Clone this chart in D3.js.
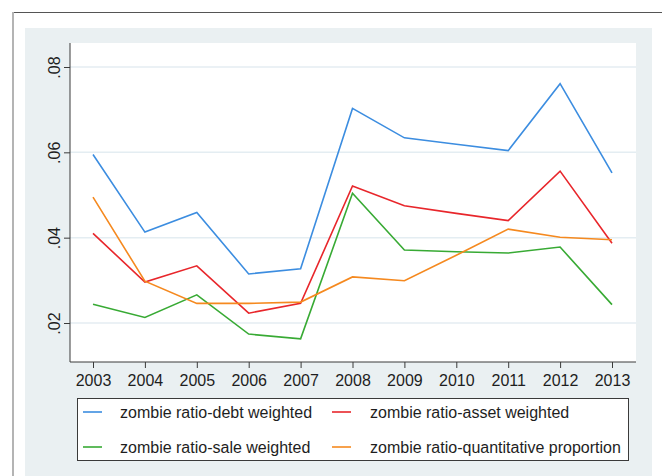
<!DOCTYPE html>
<html>
<head>
<meta charset="utf-8">
<script src="https://cdn.jsdelivr.net/npm/d3@7"></script>
<style>
  body { margin: 0; background: #fff; }
  svg { display: block; font-family: "Liberation Sans", Arial, sans-serif; }
</style>
</head>
<body>
<div class="vis-line"></div>
<script>
// values
const years = [2003, 2004, 2005, 2006, 2007, 2008, 2009, 2010, 2011, 2012, 2013];
const debtWeighted = [0.0595, 0.0413, 0.0459, 0.0315, 0.0327, 0.0703, 0.0634, 0.0619, 0.0604, 0.0761, 0.0552];
const assetWeighted = [0.0410, 0.0296, 0.0334, 0.0223, 0.0246, 0.0521, 0.0475, 0.0457, 0.0440, 0.0556, 0.0387];
const saleWeighted = [0.0244, 0.0213, 0.0266, 0.0174, 0.0163, 0.0504, 0.0371, 0.0367, 0.0364, 0.0378, 0.0243];
const quantProportion = [0.0495, 0.0298, 0.0246, 0.0246, 0.0249, 0.0308, 0.0299, 0.0359, 0.0420, 0.0401, 0.0395];
const yTicks = [0.02, 0.04, 0.06, 0.08];
const seriesNames = [
    "zombie ratio-debt weighted",
    "zombie ratio-asset weighted",
    "zombie ratio-sale weighted",
    "zombie ratio-quantitative proportion"
];

const series = [
    {name: seriesNames[0], values: debtWeighted, color: "#3c8de0"},
    {name: seriesNames[1], values: assetWeighted, color: "#e8262b"},
    {name: seriesNames[2], values: saleWeighted, color: "#38aa34"},
    {name: seriesNames[3], values: quantProportion, color: "#f5891f"}
];

const width = 662, height = 476;
const plot = {left: 70, right: 636, top: 43, bottom: 362};

const svg = d3.select('.vis-line')
    .append('svg')
    .attr("width", width)
    .attr("height", height);

// frame of the figure
svg.append("line")
    .attr("x1", 13).attr("x2", width)
    .attr("y1", 12.5).attr("y2", 12.5)
    .attr("stroke", "#555").attr("stroke-width", 1);
svg.append("line")
    .attr("x1", 13).attr("x2", 13)
    .attr("y1", 12).attr("y2", height)
    .attr("stroke", "#b4b4b4").attr("stroke-width", 2);

// grey graph region + white plot region
svg.append("rect")
    .attr("x", 25).attr("y", 28)
    .attr("width", 627).attr("height", height - 28)
    .attr("fill", "#eaf0f2");
svg.append("rect")
    .attr("x", plot.left).attr("y", plot.top)
    .attr("width", plot.right - plot.left).attr("height", plot.bottom - plot.top)
    .attr("fill", "#fff");

const x = d3.scaleLinear()
    .domain([2003, 2013])
    .range([93, 612]);

const y = d3.scaleLinear()
    .domain([0.02, 0.08])
    .range([323, 67]);

const fmt = d => d3.format(".2f")(d).replace(/^0/, "");

// grid
svg.append("g")
    .selectAll("line")
    .data(yTicks)
    .join("line")
    .attr("x1", plot.left).attr("x2", plot.right)
    .attr("y1", d => y(d)).attr("y2", d => y(d))
    .attr("stroke", "#e4edf2")
    .attr("stroke-width", 1.5);

// y axis
const yAxis = svg.append("g")
    .attr("transform", `translate(${plot.left},0)`)
    .call(d3.axisLeft(y).tickValues(yTicks).tickSize(6).tickFormat(fmt));
yAxis.select(".domain")
    .attr("d", `M0,${plot.top}V${plot.bottom}`);
yAxis.selectAll(".tick text")
    .attr("x", null).attr("dy", null)
    .attr("transform", "translate(-10,0) rotate(-90)")
    .attr("text-anchor", "middle")
    .attr("font-size", 16)
    .attr("fill", "#1e1e1e");

// x axis
const xAxis = svg.append("g")
    .attr("transform", `translate(0,${plot.bottom})`)
    .call(d3.axisBottom(x).tickValues(years).tickSize(6).tickFormat(d3.format("d")));
xAxis.select(".domain")
    .attr("d", `M${plot.left},0H${plot.right}`);
xAxis.selectAll(".tick text")
    .attr("y", 24).attr("dy", null)
    .attr("font-size", 16)
    .attr("fill", "#1e1e1e");

svg.selectAll(".domain, .tick line")
    .attr("stroke", "#3a3a3a");

// lines
const line = d3.line()
    .x((d, i) => x(years[i]))
    .y(d => y(d));

svg.append("g")
    .attr("fill", "none")
    .attr("stroke-width", 1.6)
    .selectAll("path")
    .data(series)
    .join("path")
    .attr("stroke", d => d.color)
    .attr("d", d => line(d.values));

// legend
const legend = svg.append("g");
legend.append("rect")
    .attr("x", 77.5).attr("y", 398.5)
    .attr("width", 551).attr("height", 62)
    .attr("fill", "#fff")
    .attr("stroke", "#3a3a3a");

const legendPos = [
    {lx: 83, tx: 120, ly: 412},
    {lx: 332, tx: 370, ly: 412},
    {lx: 83, tx: 120, ly: 447},
    {lx: 332, tx: 370, ly: 447}
];

const items = legend.selectAll("g.item")
    .data(series)
    .join("g")
    .attr("class", "item");

items.append("line")
    .attr("x1", (d, i) => legendPos[i].lx)
    .attr("x2", (d, i) => legendPos[i].lx + 19)
    .attr("y1", (d, i) => legendPos[i].ly)
    .attr("y2", (d, i) => legendPos[i].ly)
    .attr("stroke", d => d.color)
    .attr("stroke-width", 1.6);

items.append("text")
    .attr("x", (d, i) => legendPos[i].tx)
    .attr("y", (d, i) => legendPos[i].ly + 6)
    .attr("font-size", 16)
    .attr("fill", "#1e1e1e")
    .text(d => d.name);
</script>
</body>
</html>
